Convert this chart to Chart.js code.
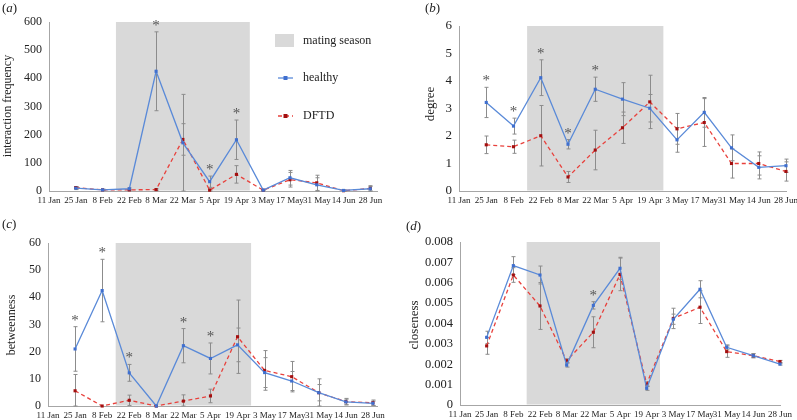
<!DOCTYPE html>
<html>
<head>
<meta charset="utf-8">
<script src="https://cdn.jsdelivr.net/npm/chart.js@4"></script>
<style>
  body { margin: 0; background: #fff; width: 797px; height: 420px; position: relative; overflow: hidden; }
  canvas { position: absolute; }
</style>
</head>
<body>
<canvas id="panelA" width="398" height="210" style="left:0;top:0"></canvas>
<canvas id="panelB" width="397" height="210" style="left:400px;top:0"></canvas>
<canvas id="panelC" width="398" height="210" style="left:0;top:210px"></canvas>
<canvas id="panelD" width="397" height="210" style="left:400px;top:210px"></canvas>
<script>
// ---- x axis: fortnightly sampling dates (first one has no data) ----
const dateLabels = ["11 Jan", "25 Jan", "8 Feb", "22 Feb", "8 Mar", "22 Mar", "5 Apr",
  "19 Apr", "3 May", "17 May", "31 May", "14 Jun", "28 Jun"];
const matingStart = 2.5; // half way 8 Feb / 22 Feb
const matingEnd = 7.5;   // half way 19 Apr / 3 May

// ---- (a) interaction frequency ----
const freqHealthy = [10, 4, 8, 425, 171, 33, 182, 3, 47, 22, 2, 8];
const freqHealthyErr = [5, 2, 3, 140, 172, 20, 70, 2, 26, 25, 2, 8];
const freqDFTD = [12, 4, 4, 5, 183, 3, 59, 3, 40, 29, 1, 9];
const freqDFTDErr = [4, 2, 2, 3, 56, 4, 31, 2, 26, 27, 2, 10];
const freqStars = [4, 6, 7];

// ---- (b) degree ----
const degHealthy = [3.22, 2.36, 4.12, 1.70, 3.70, 3.34, 3.01, 1.86, 2.86, 1.57, 0.86, 0.92];
const degHealthyErr = [0.55, 0.29, 0.65, 0.17, 0.44, 0.6, 0.5, 0.45, 0.54, 0.47, 0.42, 0.24];
const degDFTD = [1.68, 1.61, 2.01, 0.51, 1.49, 2.30, 3.24, 2.26, 2.49, 1.0, 1.0, 0.71];
const degDFTDErr = [0.32, 0.24, 1.1, 0.2, 0.72, 0.57, 0.97, 0.56, 0.87, 0.53, 0.42, 0.35];
const degStars = [1, 2, 3, 4, 5];

// ---- (c) betweenness ----
const betHealthy = [21, 42.5, 12.2, 0, 22.2, 17.5, 22.5, 12.3, 9.2, 4.9, 1.5, 1.0];
const betHealthyErr = [8.2, 11.5, 3.1, 0, 6.3, 5.7, 6.2, 5.5, 3.5, 3.0, 1.0, 0.8];
const betDFTD = [5.6, 0, 2.1, 0, 1.8, 3.7, 25.5, 13.1, 10.8, 4.9, 1.6, 1.2];
const betDFTDErr = [6.0, 0, 1.9, 0, 2.3, 2.5, 13.5, 7.3, 5.6, 5.1, 1.2, 1.0];
const betStars = [1, 2, 3, 5, 6];

// ---- (d) closeness ----
const cloHealthy = [0.00332, 0.00684, 0.00638, 0.00196, 0.00489, 0.00671, 0.00082, 0.00421, 0.00568, 0.00283, 0.00242, 0.00201];
const cloHealthyErr = [0.0003, 0.00044, 0.00044, 0.0001, 0.00018, 0.00054, 0.0001, 0.00025, 0.00042, 0.00012, 0.0001, 0.00005];
const cloDFTD = [0.0029, 0.00638, 0.00486, 0.00217, 0.00357, 0.00641, 0.00103, 0.00425, 0.0048, 0.00262, 0.00242, 0.00213];
const cloDFTDErr = [0.00041, 0.00036, 0.00115, 0.0001, 0.00076, 0.0008, 0.00011, 0.0005, 0.0008, 0.00028, 0.0001, 0.00006];
const cloStars = [5];

const serif = "'Liberation Serif', 'DejaVu Serif', serif";
const blueLine = "#5a8ad8";
const blueMark = "#3f6fcf";
const redLine = "#e8413c";
const redMark = "#a30f0f";
const shade = "#d9d9d9";

// shading, error bars, stars and labels
const deco = {
  id: "deco",
  beforeDatasetsDraw(chart, args, o) {
    const { ctx, chartArea: a, scales: { x, y } } = chart;
    ctx.save();
    ctx.fillStyle = shade;
    const l = x.getPixelForValue(matingStart), r = x.getPixelForValue(matingEnd);
    ctx.fillRect(l, a.top, r - l, a.bottom - a.top - 0.5);

    ctx.strokeStyle = "#8c8c8c";
    ctx.lineWidth = 1;
    chart.data.datasets.forEach((ds, k) => {
      const err = o.errs[k];
      ds.data.forEach((p, i) => {
        if (!err[i]) return;
        const px = Math.round(x.getPixelForValue(p.x)) + 0.5;
        const top = y.getPixelForValue(p.y + err[i]);
        const bot = Math.min(y.getPixelForValue(p.y - err[i]), a.bottom);
        ctx.beginPath();
        ctx.moveTo(px, top); ctx.lineTo(px, bot);
        ctx.moveTo(px - 2, top); ctx.lineTo(px + 2, top);
        ctx.moveTo(px - 2, bot); ctx.lineTo(px + 2, bot);
        ctx.stroke();
      });
    });
    ctx.restore();
  },
  afterDraw(chart, args, o) {
    const { ctx, chartArea: a, scales: { x, y } } = chart;
    ctx.save();
    ctx.fillStyle = "#222";
    ctx.textBaseline = "middle";

    // panel letter
    ctx.font = `13px ${serif}`;
    ctx.textAlign = "left";
    const [lx, ly] = o.letterPos;
    ctx.fillText("(", lx, ly);
    let w = ctx.measureText("(").width;
    ctx.font = `italic 13px ${serif}`;
    ctx.fillText(o.letter, lx + w, ly);
    w += ctx.measureText(o.letter).width;
    ctx.font = `13px ${serif}`;
    ctx.fillText(")", lx + w, ly);

    // y title
    ctx.save();
    ctx.translate(o.titlePos[0], o.titlePos[1]);
    ctx.rotate(-Math.PI / 2);
    ctx.textAlign = "center";
    ctx.font = `${o.titleSize}px ${serif}`;
    ctx.fillText(o.title, 0, 0);
    ctx.restore();

    // significance stars above the highest error bar
    ctx.fillStyle = "#555";
    ctx.font = `15px ${serif}`;
    ctx.textAlign = "center";
    ctx.textBaseline = "alphabetic";
    o.stars.forEach(idx => {
      let top = a.bottom;
      chart.data.datasets.forEach((ds, k) => {
        const v = ds.data[idx - 1].y + o.errs[k][idx - 1];
        top = Math.min(top, y.getPixelForValue(v));
      });
      ctx.fillText("*", x.getPixelForValue(idx), top - 2);
    });

    // legend (panel a only)
    if (o.legend) {
      ctx.fillStyle = shade;
      ctx.fillRect(275, 34, 19, 13);
      ctx.fillStyle = "#222";
      ctx.font = `12px ${serif}`;
      ctx.textAlign = "left";
      ctx.textBaseline = "middle";
      ctx.fillText("mating season", 303, 41);
      ctx.fillText("healthy", 303, 78);
      ctx.fillText("DFTD", 303, 116);
      ctx.lineWidth = 1.3;
      ctx.strokeStyle = blueLine;
      ctx.beginPath(); ctx.moveTo(278, 78); ctx.lineTo(293, 78); ctx.stroke();
      ctx.fillStyle = blueMark;
      ctx.fillRect(283.5, 76, 4, 4);
      ctx.strokeStyle = redLine;
      ctx.setLineDash([4, 3]);
      ctx.beginPath(); ctx.moveTo(278, 116); ctx.lineTo(293, 116); ctx.stroke();
      ctx.setLineDash([]);
      ctx.fillStyle = redMark;
      ctx.fillRect(283.5, 114, 4, 4);
    }
    ctx.restore();
  }
};

function makePanel(id, cfg) {
  const series = (vals) => vals.map((v, i) => ({ x: i + 1, y: v }));
  return new Chart(document.getElementById(id), {
    type: "line",
    data: {
      datasets: [
        {
          label: "healthy", data: series(cfg.healthy),
          borderColor: blueLine, backgroundColor: blueMark, borderWidth: 1.3,
          pointStyle: "rect", pointRadius: 2.2, pointBorderWidth: 0, clip: false
        },
        {
          label: "DFTD", data: series(cfg.dftd),
          borderColor: redLine, backgroundColor: redMark, borderWidth: 1.3, borderDash: [4, 3],
          pointStyle: "rect", pointRadius: 2.2, pointBorderWidth: 0, clip: false
        }
      ]
    },
    options: {
      responsive: false,
      animation: false,
      events: [],
      layout: { padding: { left: 0, top: cfg.area.top, right: cfg.area.right, bottom: 0 } },
      plugins: {
        legend: { display: false },
        tooltip: { enabled: false },
        deco: {
          errs: [cfg.healthyErr, cfg.dftdErr], stars: cfg.stars,
          letter: cfg.letter, letterPos: cfg.letterPos,
          title: cfg.title, titlePos: cfg.titlePos, titleSize: cfg.titleSize,
          legend: !!cfg.legend
        }
      },
      scales: {
        x: {
          type: "linear", min: 0, max: cfg.xMax,
          afterBuildTicks: s => { s.ticks = dateLabels.map((_, i) => ({ value: i })); },
          afterFit: s => { s.height = cfg.area.xh; s.paddingLeft = 0; s.paddingRight = 0; },
          grid: { display: false, drawTicks: false },
          border: { color: "#a6a6a6" },
          ticks: {
            autoSkip: false, maxRotation: 0, minRotation: 0, padding: 4, color: "#222",
            font: { family: serif, size: 9 },
            callback: v => dateLabels[v]
          }
        },
        y: {
          min: 0, max: cfg.yMax,
          afterBuildTicks: s => { s.ticks = cfg.yTicks.map(v => ({ value: v })); },
          afterFit: s => { s.width = cfg.area.left; s.paddingTop = 0; s.paddingBottom = 0; },
          grid: { display: false, drawTicks: false },
          border: { color: "#a6a6a6" },
          ticks: {
            padding: 7, color: "#222",
            font: { family: serif, size: cfg.tickSize },
            callback: cfg.fmt
          }
        }
      }
    },
    plugins: [deco]
  });
}

const intFmt = v => String(v);

makePanel("panelA", {
  healthy: freqHealthy, healthyErr: freqHealthyErr, dftd: freqDFTD, dftdErr: freqDFTDErr,
  stars: freqStars, letter: "a", letterPos: [2, 9],
  title: "interaction frequency", titlePos: [8, 106], titleSize: 12,
  legend: true, xMax: 12.25, yMax: 600, yTicks: [0, 100, 200, 300, 400, 500, 600],
  tickSize: 12, fmt: intFmt,
  area: { left: 49, top: 22, right: 21, xh: 19 }
});

makePanel("panelB", {
  healthy: degHealthy, healthyErr: degHealthyErr, dftd: degDFTD, dftdErr: degDFTDErr,
  stars: degStars, letter: "b", letterPos: [25, 9],
  title: "degree", titlePos: [31, 104], titleSize: 13,
  xMax: 12, yMax: 6, yTicks: [0, 1, 2, 3, 4, 5, 6],
  tickSize: 13, fmt: intFmt,
  area: { left: 59, top: 26, right: 11, xh: 19 }
});

makePanel("panelC", {
  healthy: betHealthy, healthyErr: betHealthyErr, dftd: betDFTD, dftdErr: betDFTDErr,
  stars: betStars, letter: "c", letterPos: [2, 15],
  title: "betweenness", titlePos: [12, 115], titleSize: 12,
  xMax: 12.15, yMax: 60, yTicks: [0, 10, 20, 30, 40, 50, 60],
  tickSize: 12, fmt: intFmt,
  area: { left: 48, top: 33, right: 21, xh: 14 }
});

makePanel("panelD", {
  healthy: cloHealthy, healthyErr: cloHealthyErr, dftd: cloDFTD, dftdErr: cloDFTDErr,
  stars: cloStars, letter: "d", letterPos: [6, 17],
  title: "closeness", titlePos: [15, 115], titleSize: 13,
  xMax: 12, yMax: 0.008,
  yTicks: [0, 0.001, 0.002, 0.003, 0.004, 0.005, 0.006, 0.007, 0.008],
  tickSize: 12.5, fmt: v => v === 0 ? "0" : v.toFixed(3),
  area: { left: 60, top: 32, right: 17, xh: 15 }
});
</script>
</body>
</html>
